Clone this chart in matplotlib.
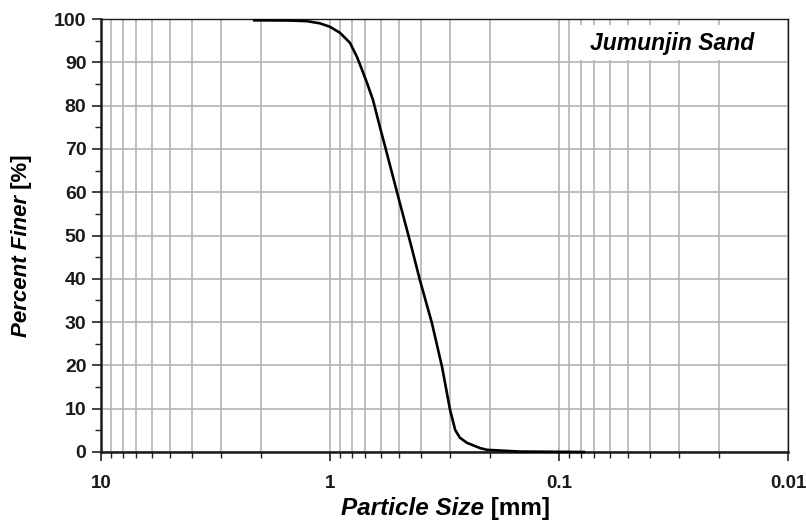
import numpy as np
import matplotlib.pyplot as plt
from matplotlib.ticker import FixedLocator, LogLocator, NullFormatter, MultipleLocator
from matplotlib.patches import Rectangle

plt.rcParams['font.family'] = ['Liberation Sans', 'DejaVu Sans']

# grain size distribution
size_mm = [2.17, 1.495, 1.26, 1.106, 1.0, 0.904, 0.818, 0.762, 0.725, 0.689,
           0.649, 0.605, 0.575, 0.500, 0.443, 0.405, 0.359, 0.324, 0.299,
           0.284, 0.271, 0.252, 0.221, 0.206, 0.148, 0.0769]
finer = [99.7, 99.65, 99.5, 99.0, 98.2, 96.8, 94.5, 91.2, 88.3, 85.2,
         81.3, 75.0, 70.6, 58.3, 47.8, 39.7, 29.8, 19.6, 9.7,
         5.1, 3.3, 2.1, 0.9, 0.5, 0.1, 0.0]

xticks = [10, 1, 0.1, 0.01]
xtick_labels = ['10', '1', '0.1', '0.01']
yticks = [0, 10, 20, 30, 40, 50, 60, 70, 80, 90, 100]

fig = plt.figure(figsize=(8.06, 5.22), dpi=100)
ax = fig.add_axes([101 / 806, 1 - 452 / 522, 687 / 806, 433 / 522])

ax.plot(size_mm, finer, color='black', lw=1.9, zorder=4, clip_on=False,
        solid_joinstyle='round', solid_capstyle='butt')

ax.set_xscale('log')
ax.set_xlim(10, 0.01)
ax.set_ylim(0, 100)

ax.xaxis.set_major_locator(FixedLocator(xticks))
ax.set_xticklabels(xtick_labels)
ax.xaxis.set_minor_locator(LogLocator(base=10, subs=np.arange(2, 10)))
ax.xaxis.set_minor_formatter(NullFormatter())
ax.set_yticks(yticks)
ax.yaxis.set_minor_locator(MultipleLocator(5))

ax.grid(True, which='major', color='#b4b4b4', lw=1.2, zorder=0)
ax.grid(True, which='minor', axis='x', color='#b4b4b4', lw=1.2, zorder=0)
ax.set_axisbelow(True)

ax.tick_params(which='major', direction='out', length=6.5, width=1.2,
               color='#222222', labelsize=13.5, labelcolor='#1a1a1a')
ax.tick_params(which='minor', direction='out', length=4, width=1.0,
               color='#222222')
ax.tick_params(axis='x', which='major', pad=10)
ax.tick_params(axis='y', which='major', pad=4, labelsize=14)
for lab in ax.get_xticklabels() + ax.get_yticklabels():
    lab.set_fontweight('bold')

for side in ['left', 'bottom']:
    ax.spines[side].set_linewidth(1.8)
    ax.spines[side].set_color('#1a1a1a')
for side in ['top', 'right']:
    ax.spines[side].set_linewidth(1.0)
    ax.spines[side].set_color('#1a1a1a')

# white patch behind the sample name
ax.add_patch(Rectangle((0.694, 0.905), 0.304, 0.081, transform=ax.transAxes,
                       facecolor='white', edgecolor='none', zorder=2))
ax.text(0.831, 0.944, 'Jumunjin Sand', transform=ax.transAxes,
        ha='center', va='center', fontsize=16.5, fontweight='bold',
        fontstyle='italic', zorder=3)

# axis labels with italic names and upright units
t1 = fig.text(484 / 806, 1 - 515 / 522, 'Particle Size', ha='right',
              va='baseline', fontsize=17.5, fontweight='bold', fontstyle='italic')
ax.annotate(' [mm]', xy=(1, 0), xycoords=t1, ha='left', va='bottom',
            fontsize=17.5, fontweight='bold', annotation_clip=False)

t2 = fig.text(22 / 806, 1 - 337 / 522, 'Percent Finer', rotation=90,
              ha='center', va='bottom', fontsize=16, fontweight='bold',
              fontstyle='italic')
ax.annotate(' [%]', xy=(0.5, 1), xycoords=t2, rotation=90, ha='center',
            va='bottom', fontsize=16, fontweight='bold', annotation_clip=False)

fig.savefig('out.png', dpi=100)
